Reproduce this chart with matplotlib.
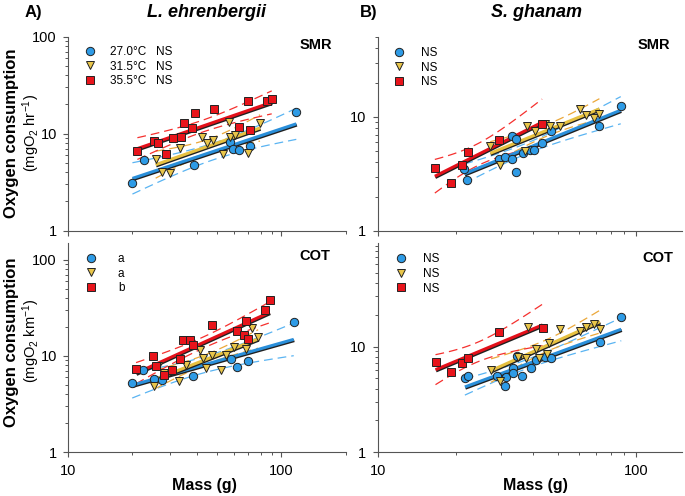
import numpy as np
import matplotlib
matplotlib.use('Agg')
import matplotlib.pyplot as plt
import matplotlib.patheffects as pe

plt.rcParams['font.family'] = ['Liberation Sans', 'DejaVu Sans']
plt.rcParams['mathtext.fontset'] = 'custom'
plt.rcParams['mathtext.rm'] = 'Liberation Sans'
plt.rcParams['mathtext.it'] = 'Liberation Sans:italic'
plt.rcParams['mathtext.bf'] = 'Liberation Sans:bold'

# ---- data: body mass (g) and oxygen consumption ----
# L. ehrenbergii, SMR
le_smr_27_mass = [20.0, 22.6, 38.7, 57.4, 59.2, 63.5, 71.4, 117.5]
le_smr_27_o2 = [3.13, 5.31, 4.72, 8.3, 6.89, 6.73, 7.46, 16.7]
le_smr_31_mass = [25.7, 27.4, 30.0, 33.4, 42.3, 44.7, 48.0, 53.1, 56.8, 57.4, 60.7, 70.0, 79.4]
le_smr_31_o2 = [5.52, 4.03, 3.90, 7.06, 9.17, 8.0, 8.6, 6.17, 13.1, 9.2, 9.7, 6.3, 12.8]
le_smr_35_mass = [21.1, 25.2, 26.4, 28.6, 31.0, 33.9, 34.9, 37.9, 39.3, 48.4, 63.5, 70.0, 71.4, 85.9, 90.1]
le_smr_35_o2 = [6.68, 8.34, 8.08, 6.17, 9.1, 9.24, 12.8, 11.5, 16.5, 17.8, 11.6, 21.5, 10.9, 21.9, 22.9]

# S. ghanam, SMR
sg_smr_27_mass = [21.6, 22.2, 29.3, 31.0, 33.1, 33.0, 34.3, 34.3, 36.5, 38.7, 40.2, 43.0, 46.6, 72.0, 87.1]
sg_smr_27_o2 = [3.49, 2.81, 4.27, 4.5, 4.27, 6.76, 6.45, 3.26, 4.82, 5.16, 5.16, 5.9, 7.48, 8.28, 12.6]
sg_smr_31_mass = [27.2, 29.6, 37.1, 37.8, 40.7, 44.5, 46.3, 50.5, 60.8, 64.1, 68.9, 72.0]
sg_smr_31_o2 = [5.52, 3.76, 5.0, 8.39, 7.48, 8.74, 8.28, 8.39, 11.8, 10.5, 9.8, 10.7]
sg_smr_35_mass = [16.6, 19.1, 21.2, 22.3, 29.3, 43.2]
sg_smr_35_o2 = [3.54, 2.61, 3.81, 4.89, 6.32, 8.62]

# L. ehrenbergii, COT
le_cot_27_mass = [19.95, 22.5, 25.3, 27.4, 38.3, 57.9, 62.2, 69.8, 114.3]
le_cot_27_o2 = [5.29, 7.10, 5.82, 5.68, 6.25, 9.38, 7.69, 8.87, 22.4]
le_cot_31_mass = [25.3, 26.4, 28.1, 33.0, 35.5, 41.4, 43.0, 44.5, 47.0, 52.3, 55.2, 60.0, 68.5, 72.9, 77.8]
le_cot_31_o2 = [4.88, 7.81, 6.66, 5.5, 8.0, 11.5, 9.6, 7.57, 10.2, 7.21, 10.2, 12.4, 11.9, 19.5, 15.7]
le_cot_35_mass = [20.8, 25.0, 25.9, 28.2, 30.6, 33.4, 34.5, 37.4, 38.5, 47.3, 62.2, 66.8, 68.5, 69.8, 84.1, 88.1]
le_cot_35_o2 = [7.33, 10.1, 7.8, 6.4, 7.1, 9.4, 14.5, 14.5, 13.1, 20.8, 18.0, 16.6, 23.1, 14.9, 29.8, 38.7]

# S. ghanam, COT
sg_cot_27_mass = [21.7, 22.4, 29.0, 31.2, 31.1, 33.2, 33.4, 34.4, 36.1, 39.0, 40.8, 44.2, 46.9, 72.3, 87.5]
sg_cot_27_o2 = [5.01, 5.28, 5.32, 5.2, 4.27, 6.33, 5.67, 8.16, 5.32, 6.24, 7.48, 8.04, 7.76, 11.0, 19.2]
sg_cot_31_mass = [27.4, 29.7, 34.8, 37.3, 38.2, 40.8, 42.0, 45.3, 46.0, 50.5, 60.4, 64.1, 68.4, 72.3]
sg_cot_31_o2 = [6.01, 4.73, 8.04, 7.76, 15.2, 9.44, 7.76, 8.53, 10.8, 14.6, 14.2, 15.2, 16.4, 14.6]
sg_cot_35_mass = [16.7, 19.2, 21.1, 22.4, 29.5, 43.4]
sg_cot_35_o2 = [7.21, 5.71, 7.06, 7.76, 13.7, 14.9]

le_smr_labels = ['27.0°C   NS', '31.5°C   NS', '35.5°C   NS']
le_cot_labels = ['a', 'a', 'b']
sg_labels = ['NS', 'NS', 'NS']

# styles
markers = ['o', 'v', 's']
msizes = [6.0, 6.0, 5.8]
fills = ['#2E9BE6', '#E9C64A', '#E8141B']
line_cols = ['#2A8FDA', '#E6C040', '#E3101A']
ci_cols = ['#5AB4F2', '#EBA83A', '#F5302E']

# two-sided 95% t values
t975 = {1: 12.706, 2: 4.303, 3: 3.182, 4: 2.776, 5: 2.571, 6: 2.447, 7: 2.365,
        8: 2.306, 9: 2.262, 10: 2.228, 11: 2.201, 12: 2.179, 13: 2.160,
        14: 2.145, 15: 2.131, 16: 2.120, 17: 2.110, 18: 2.101, 19: 2.093, 20: 2.086}


def fit_band(mass, o2):
    lx = np.log10(mass)
    ly = np.log10(o2)
    n = len(lx)
    b, a = np.polyfit(lx, ly, 1)
    res = ly - (a + b * lx)
    s = np.sqrt(np.sum(res ** 2) / (n - 2))
    sxx = np.sum((lx - lx.mean()) ** 2)
    xs = np.linspace(lx.min(), lx.max(), 60)
    yfit = a + b * xs
    se = s * np.sqrt(1.0 / n + (xs - lx.mean()) ** 2 / sxx)
    t = t975[n - 2]
    return 10 ** xs, 10 ** yfit, 10 ** (yfit - t * se), 10 ** (yfit + t * se)


def draw_panel(ax, groups, labels):
    handles = []
    for i, (m, o) in enumerate(groups):
        xs, yf, lo, hi = fit_band(np.array(m), np.array(o))
        ax.plot(xs, lo, color=ci_cols[i], lw=0.9, dashes=(7, 4), zorder=2)
        ax.plot(xs, hi, color=ci_cols[i], lw=0.9, dashes=(7, 4), zorder=2)
        ax.plot(xs, yf, color=line_cols[i], lw=2.2, solid_capstyle='butt', zorder=3,
                path_effects=[pe.SimpleLineShadow(offset=(0.4, -0.9), shadow_color='#202020',
                                                  alpha=1.0, rho=1.0),
                              pe.Normal()])
    for i, (m, o) in enumerate(groups):
        h, = ax.plot(m, o, linestyle='none', marker=markers[i], ms=msizes[i],
                     mfc=fills[i], mec='#222222', mew=0.7, zorder=4, label=labels[i])
        handles.append(h)
    return handles


def style_axis(ax, xmax, ymax, show_x):
    ax.set_xscale('log')
    ax.set_yscale('log')
    ax.set_xlim(10, xmax)
    ax.set_ylim(1, ymax)
    for side in ['top', 'right']:
        ax.spines[side].set_visible(False)
    for side in ['left', 'bottom']:
        ax.spines[side].set_color('#555555')
        ax.spines[side].set_linewidth(0.8)
    ax.tick_params(which='major', direction='out', length=3.8, width=0.8, color='#555555',
                   labelsize=10.5, pad=4.5)
    ax.tick_params(which='minor', direction='out', length=2.3, width=0.7, color='#555555')
    ax.yaxis.set_major_formatter(matplotlib.ticker.FuncFormatter(lambda v, p: '%g' % v))
    ax.yaxis.set_minor_formatter(matplotlib.ticker.NullFormatter())
    ax.xaxis.set_minor_formatter(matplotlib.ticker.NullFormatter())
    if show_x:
        ax.xaxis.set_major_formatter(matplotlib.ticker.FuncFormatter(lambda v, p: '%g' % v))
    else:
        ax.xaxis.set_major_formatter(matplotlib.ticker.NullFormatter())


fig = plt.figure(figsize=(6.85, 4.96), dpi=100)
ax_tl = fig.add_axes([0.0997, 0.5349, 0.4047, 0.3911])
ax_bl = fig.add_axes([0.0997, 0.0887, 0.4047, 0.4214])
ax_tr = fig.add_axes([0.5518, 0.5343, 0.4434, 0.3905])
ax_br = fig.add_axes([0.5518, 0.0881, 0.4434, 0.4214])

h_tl = draw_panel(ax_tl, [(le_smr_27_mass, le_smr_27_o2), (le_smr_31_mass, le_smr_31_o2),
                          (le_smr_35_mass, le_smr_35_o2)], le_smr_labels)
h_bl = draw_panel(ax_bl, [(le_cot_27_mass, le_cot_27_o2), (le_cot_31_mass, le_cot_31_o2),
                          (le_cot_35_mass, le_cot_35_o2)], le_cot_labels)
h_tr = draw_panel(ax_tr, [(sg_smr_27_mass, sg_smr_27_o2), (sg_smr_31_mass, sg_smr_31_o2),
                          (sg_smr_35_mass, sg_smr_35_o2)], sg_labels)
h_br = draw_panel(ax_br, [(sg_cot_27_mass, sg_cot_27_o2), (sg_cot_31_mass, sg_cot_31_o2),
                          (sg_cot_35_mass, sg_cot_35_o2)], sg_labels)

style_axis(ax_tl, 200, 100, False)
style_axis(ax_bl, 200, 150, True)
style_axis(ax_tr, 150, 50, False)
style_axis(ax_br, 150, 95, True)

leg_kw = dict(frameon=False, fontsize=8.5, handlelength=1.0, borderpad=0,
              borderaxespad=0, labelspacing=0.22, numpoints=1, loc='upper left')
ax_tl.legend(handles=h_tl, bbox_to_anchor=(0.057, 0.952), handletextpad=1.2, **leg_kw)
ax_bl.legend(handles=h_bl, bbox_to_anchor=(0.062, 0.952), handletextpad=1.75, **leg_kw)
ax_tr.legend(handles=h_tr, bbox_to_anchor=(0.051, 0.950), handletextpad=1.3, **leg_kw)
ax_br.legend(handles=h_br, bbox_to_anchor=(0.055, 0.952), handletextpad=1.4, **leg_kw)

ax_tl.text(0.951, 0.957, 'SMR', transform=ax_tl.transAxes, ha='right', va='center',
           fontsize=10.5, fontweight='bold')
ax_tr.text(0.961, 0.960, 'SMR', transform=ax_tr.transAxes, ha='right', va='center',
           fontsize=10.5, fontweight='bold')
ax_bl.text(0.944, 0.938, 'COT', transform=ax_bl.transAxes, ha='right', va='center',
           fontsize=10.5, fontweight='bold')
ax_br.text(0.971, 0.930, 'COT', transform=ax_br.transAxes, ha='right', va='center',
           fontsize=10.5, fontweight='bold')

fig.text(0.036, 0.974, 'A)', fontsize=12, fontweight='bold', ha='left', va='center')
fig.text(0.526, 0.974, 'B)', fontsize=12, fontweight='bold', ha='left', va='center')
fig.text(0.302, 0.974, 'L. ehrenbergii', fontsize=13, fontweight='bold', style='italic',
         ha='center', va='center')
fig.text(0.7835, 0.974, 'S. ghanam', fontsize=13, fontweight='bold', style='italic',
         ha='center', va='center')

fig.text(0.0175, 0.732, 'Oxygen consumption', fontsize=12, fontweight='bold',
         rotation=90, ha='center', va='center')
fig.text(0.0455, 0.732, r'(mgO$_2$ hr$^{-1}$)', fontsize=10.5, rotation=90,
         ha='center', va='center')
fig.text(0.0175, 0.310, 'Oxygen consumption', fontsize=12, fontweight='bold',
         rotation=90, ha='center', va='center')
fig.text(0.0455, 0.314, r'(mgO$_2$ km$^{-1}$)', fontsize=10.5, rotation=90,
         ha='center', va='center')

fig.text(0.299, 0.022, 'Mass (g)', fontsize=11.5, fontweight='bold', ha='center', va='center')
fig.text(0.781, 0.022, 'Mass (g)', fontsize=11.5, fontweight='bold', ha='center', va='center')

fig.savefig('out.png', dpi=100)
